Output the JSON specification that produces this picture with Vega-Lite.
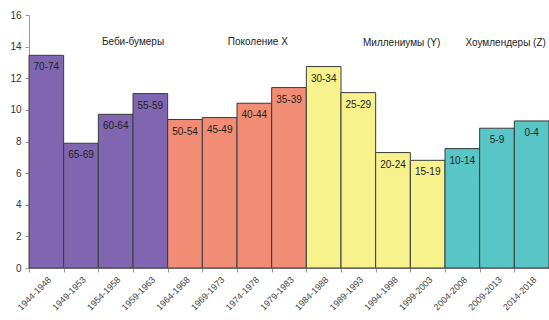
{
  "$schema": "https://vega.github.io/schema/vega-lite/v6.json",
  "autosize": {"type": "none"},
  "padding": {"left": 29, "top": 15, "right": 0, "bottom": 52},
  "width": 520,
  "height": 253,
  "background": "white",
  "config": {
    "view": {"stroke": null},
    "font": "Liberation Sans",
    "text": {"font": "Liberation Sans"}
  },
  "datasets": {
    "bars": [
      {"period": "1944-1948", "age": "70-74", "value": 13.45, "gen": "Беби-бумеры"},
      {"period": "1949-1953", "age": "65-69", "value": 7.89, "gen": "Беби-бумеры"},
      {"period": "1954-1958", "age": "60-64", "value": 9.72, "gen": "Беби-бумеры"},
      {"period": "1959-1963", "age": "55-59", "value": 11.03, "gen": "Беби-бумеры"},
      {"period": "1964-1968", "age": "50-54", "value": 9.39, "gen": "Поколение X"},
      {"period": "1969-1973", "age": "45-49", "value": 9.51, "gen": "Поколение X"},
      {"period": "1974-1978", "age": "40-44", "value": 10.42, "gen": "Поколение X"},
      {"period": "1979-1983", "age": "35-39", "value": 11.41, "gen": "Поколение X"},
      {"period": "1984-1988", "age": "30-34", "value": 12.74, "gen": "Миллениумы (Y)"},
      {"period": "1989-1993", "age": "25-29", "value": 11.09, "gen": "Миллениумы (Y)"},
      {"period": "1994-1998", "age": "20-24", "value": 7.3, "gen": "Миллениумы (Y)"},
      {"period": "1999-2003", "age": "15-19", "value": 6.81, "gen": "Миллениумы (Y)"},
      {"period": "2004-2008", "age": "10-14", "value": 7.55, "gen": "Хоумлендеры (Z)"},
      {"period": "2009-2013", "age": "5-9", "value": 8.84, "gen": "Хоумлендеры (Z)"},
      {"period": "2014-2018", "age": "0-4", "value": 9.3, "gen": "Хоумлендеры (Z)"}
    ]
  },
  "encoding": {
    "x": {
      "field": "period", "type": "nominal", "sort": null,
      "scale": {"paddingInner": 0, "paddingOuter": 0},
      "axis": {
        "title": null, "labelAngle": -45, "labelFontSize": 9, "labelColor": "#444",
        "domainColor": "#999", "tickColor": "#999", "tickSize": 4,
        "tickBand": "extent", "labelPadding": 3, "labelOverlap": false
      }
    },
    "y": {
      "field": "value", "type": "quantitative",
      "scale": {"domain": [0, 16], "nice": false},
      "axis": {
        "title": null, "values": [0, 2, 4, 6, 8, 10, 12, 14, 16], "tickCount": 20, "grid": false,
        "labelFontSize": 10, "labelColor": "#333", "domainColor": "#999",
        "tickColor": "#999", "tickSize": 4, "labelPadding": 4,
        "labelOverlap": false, "labelFlush": false
      }
    }
  },
  "layer": [
    {
      "data": {"name": "bars"},
      "mark": {"type": "bar", "stroke": "#3a3a3a", "strokeWidth": 1},
      "encoding": {
        "color": {
          "field": "gen", "type": "nominal", "legend": null,
          "scale": {
            "domain": ["Беби-бумеры", "Поколение X", "Миллениумы (Y)", "Хоумлендеры (Z)"],
            "range": ["#8066B0", "#F28D75", "#F8F28C", "#58C6C6"]
          }
        }
      }
    },
    {
      "data": {"name": "bars"},
      "mark": {"type": "text", "baseline": "top", "dy": 7, "fontSize": 10, "color": "#222"},
      "encoding": {
        "text": {"field": "age"}
      }
    },
    {
      "data": {"values": [{"period": "1959-1963", "label": "Беби-бумеры", "value": 14.3}]},
      "mark": {"type": "text", "fontSize": 10, "color": "#222", "baseline": "middle"},
      "encoding": {
        "x": {"field": "period", "type": "nominal", "bandPosition": 0},
        "text": {"field": "label"}
      }
    },
    {
      "data": {"values": [{"period": "1974-1978", "label": "Поколение X", "value": 14.3}]},
      "mark": {"type": "text", "fontSize": 10, "color": "#222", "baseline": "middle"},
      "encoding": {
        "x": {"field": "period", "type": "nominal", "bandPosition": 0.6},
        "text": {"field": "label"}
      }
    },
    {
      "data": {"values": [
        {"period": "1994-1998", "label": "Миллениумы (Y)", "value": 14.25},
        {"period": "2009-2013", "label": "Хоумлендеры (Z)", "value": 14.25}
      ]},
      "mark": {"type": "text", "fontSize": 10, "color": "#222", "baseline": "middle"},
      "encoding": {
        "x": {"field": "period", "type": "nominal", "bandPosition": 0.75},
        "text": {"field": "label"}
      }
    }
  ]
}
